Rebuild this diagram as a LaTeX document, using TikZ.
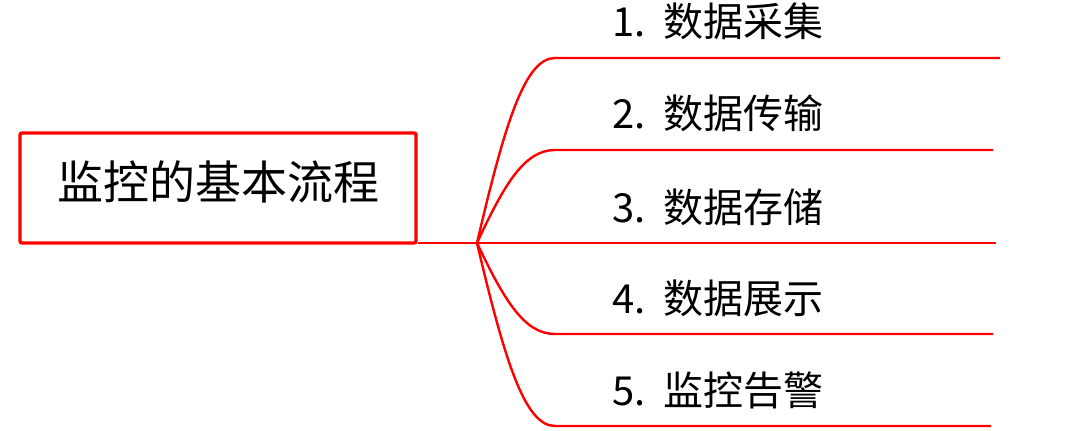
\documentclass[tikz,border=0pt]{standalone}
\usepackage{fontspec}
\setmainfont{Noto Sans CJK SC}
\usepackage{xcolor}
\usepackage{tikz}
\usetikzlibrary{calc, positioning}

\begin{document}
\begin{tikzpicture}[x=0.75pt, y=-0.75pt,
    link/.style={red, line width=1.8pt},
    rootbox/.style={draw=red, line width=2.6pt, rounded corners=1.5pt,
        minimum width=297pt, minimum height=82.5pt, text depth=12pt,
        font=\fontsize{34.5}{40}\selectfont},
    item/.style={anchor=base west, inner sep=0pt,
        font=\fontsize{30}{36}\selectfont}]
    \useasboundingbox (0,0) rectangle (1080,431);

    % 1. 根节点
    \node[rootbox] (root) at (218,188) {监控的基本流程};
    \coordinate (J) at (477,243);
    \draw[link] (J -| root.east) -- (J);

    % 2. 五个分支
    \foreach \i/\txt/\y/\xe in {1/数据采集/58/1000, 2/数据传输/150/993,
            3/数据存储/243/996, 4/数据展示/334/993, 5/监控告警/426/991} {
        \pgfmathsetmacro\ca{243+0.65*(\y-243)}
        \coordinate (k\i) at (555,\y);
        \coordinate (e\i) at (\xe,\y);
        \node[item] (t\i) at (612,\y-21) {\i.\hspace{0.45em}\txt};
        \draw[link] (J) .. controls (505,\ca) and (525,\y) .. (k\i) -- (e\i);
    }
\end{tikzpicture}
\end{document}
